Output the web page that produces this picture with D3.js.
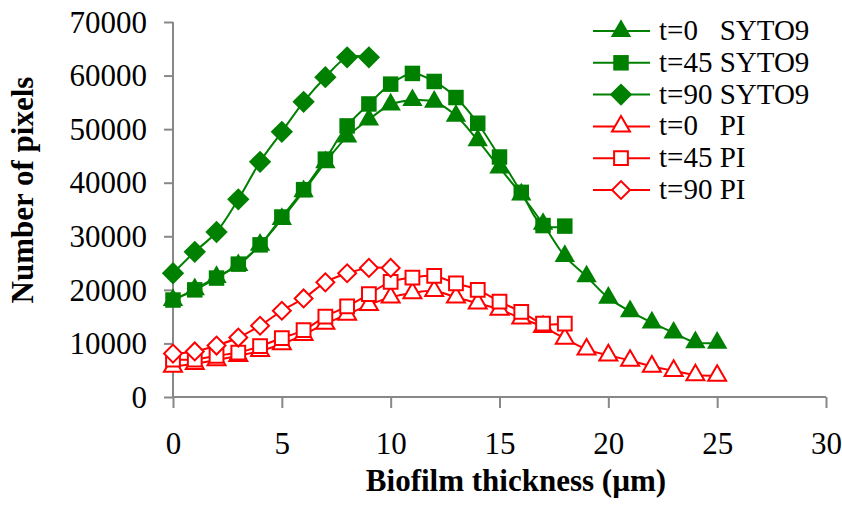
<!DOCTYPE html>
<html>
<head>
<meta charset="utf-8">
<script src="https://cdn.jsdelivr.net/npm/d3@7"></script>
<style>
  body { margin: 0; background: #fff; }
  text { font-family: "Liberation Serif", "Times New Roman", serif; fill: #000; }
</style>
</head>
<body>
<div id="chart"></div>
<script>
// thickness steps (µm)
var depth = d3.range(0, 26)

// pixel counts per slice
var syto0  = [18100, 20100, 22400, 24600, 28400, 33200, 38400, 43800, 48600, 51800,
              54600, 55400, 55100, 52500, 47900, 42800, 37800, 32300, 26300, 22500,
              18500, 16000, 13900, 12000, 10200, 10100]
var syto45 = [18100, 20000, 22200, 24800, 28400, 33600, 38700, 44400, 50600, 54700,
              58400, 60400, 58900, 55900, 51100, 44800, 38200, 32000, 31900]
var syto90 = [23100, 27100, 30800, 36900, 43900, 49500, 55100, 59700, 63400, 63400]
var pi0    = [5700, 6200, 6900, 7700, 8600, 9900, 11600, 13700, 15400, 17200,
              18600, 19400, 19800, 18600, 17500, 16300, 14700, 13100, 10900, 8900,
              7800, 6800, 5700, 4900, 4100, 4000]
var pi45   = [7000, 7000, 7700, 8300, 9500, 11000, 12500, 15000, 16900, 19200,
              21500, 22300, 22600, 21200, 20000, 17800, 15900, 13700, 13700]
var pi90   = [8100, 8500, 9600, 11100, 13300, 16100, 18400, 21400, 23100, 24100, 24100]

var seriesNames = ["t=0   SYTO9", "t=45 SYTO9", "t=90 SYTO9", "t=0   PI", "t=45 PI", "t=90 PI"]
var xTicks = [0, 5, 10, 15, 20, 25, 30]
var yTicks = [0, 10000, 20000, 30000, 40000, 50000, 60000, 70000]

var series = [
  {name: seriesNames[0], values: syto0,  color: "#008000", shape: "triangle", filled: true},
  {name: seriesNames[1], values: syto45, color: "#008000", shape: "square",   filled: true},
  {name: seriesNames[2], values: syto90, color: "#008000", shape: "diamond",  filled: true},
  {name: seriesNames[3], values: pi0,    color: "#ff0000", shape: "triangle", filled: false},
  {name: seriesNames[4], values: pi45,   color: "#ff0000", shape: "square",   filled: false},
  {name: seriesNames[5], values: pi90,   color: "#ff0000", shape: "diamond",  filled: false}
]

var width = 842, height = 508

var svg = d3.select("#chart")
  .append("svg")
    .attr("width", width)
    .attr("height", height)

var x = d3.scaleLinear().domain([0, 30]).range([173, 826])
var y = d3.scaleLinear().domain([0, 70000]).range([397, 22])

var axisColor = "#888"

// y axis
var yAxis = svg.append("g")
  .attr("transform", "translate(" + x(0) + ",0)")
  .call(d3.axisLeft(y).tickValues(yTicks).tickSize(9).tickPadding(17).tickFormat(d3.format("d")))
yAxis.select(".domain").attr("stroke", axisColor).attr("stroke-width", 2).attr("d", "M0," + y(70000) + "V" + y(0))
yAxis.selectAll(".tick line").attr("stroke", axisColor).attr("stroke-width", 2)
yAxis.selectAll(".tick text").style("font-size", "31px").attr("dy", "0.33em")

// x axis
var xAxis = svg.append("g")
  .attr("transform", "translate(0," + y(0) + ")")
  .call(d3.axisBottom(x).tickValues(xTicks).tickSize(11).tickPadding(46))
xAxis.select(".domain").attr("stroke", axisColor).attr("stroke-width", 2).attr("d", "M" + x(0) + ",0H" + x(30))
xAxis.selectAll(".tick line").attr("stroke", axisColor).attr("stroke-width", 2)
xAxis.selectAll(".tick text").style("font-size", "31px").attr("dy", "0")

// axis titles
svg.append("text")
  .attr("x", 516).attr("y", 491)
  .attr("text-anchor", "middle")
  .style("font-size", "31px").style("font-weight", "bold")
  .text("Biofilm thickness (µm)")

svg.append("text")
  .attr("transform", "translate(33,190) rotate(-90)")
  .attr("text-anchor", "middle")
  .style("font-size", "31px").style("font-weight", "bold")
  .text("Number of pixels")

// marker shapes, sizes are areas
function markerPath(shape, filled) {
  if (shape == "triangle") return d3.symbol().type(d3.symbolTriangle).size(filled ? 180 : 140)()
  if (shape == "square") return d3.symbol().type(d3.symbolSquare).size(filled ? 240 : 190)()
  return d3.symbol().type(d3.symbolSquare).size(filled ? 250 : 160)()
}

var line = d3.line()
  .x(function(d, i) { return x(depth[i]) })
  .y(function(d) { return y(d) })
  .curve(d3.curveCatmullRom)

series.forEach(function(s) {
  var g = svg.append("g")
  g.append("path")
    .attr("d", line(s.values))
    .attr("fill", "none")
    .attr("stroke", s.color)
    .attr("stroke-width", 2)
  g.selectAll("path.pt")
    .data(s.values)
    .enter()
    .append("path")
      .attr("class", "pt")
      .attr("d", markerPath(s.shape, s.filled))
      .attr("transform", function(d, i) {
        return "translate(" + x(depth[i]) + "," + y(d) + ")" + (s.shape == "diamond" ? " rotate(45)" : "")
      })
      .attr("fill", s.filled ? s.color : "#fff")
      .attr("stroke", s.color)
      .attr("stroke-width", s.filled ? 0 : 2)
})

// legend
var legend = svg.append("g")
series.forEach(function(s, i) {
  var ly = 31 + i * 31.8
  legend.append("line")
    .attr("x1", 593).attr("x2", 650)
    .attr("y1", ly).attr("y2", ly)
    .attr("stroke", s.color).attr("stroke-width", 2)
  legend.append("path")
    .attr("d", markerPath(s.shape, s.filled))
    .attr("transform", "translate(621," + ly + ")" + (s.shape == "diamond" ? " rotate(45)" : ""))
    .attr("fill", s.filled ? s.color : "#fff")
    .attr("stroke", s.color)
    .attr("stroke-width", s.filled ? 0 : 2)
  legend.append("text")
    .attr("x", 659).attr("y", ly + 9)
    .style("font-size", "29px")
    .style("white-space", "pre")
    .text(s.name)
})
</script>
</body>
</html>
